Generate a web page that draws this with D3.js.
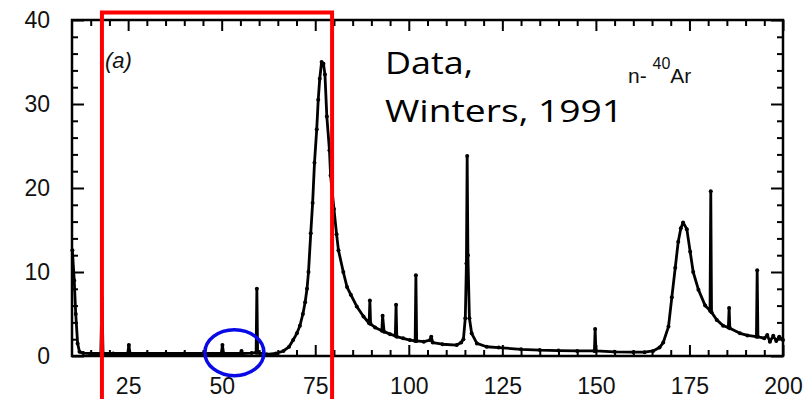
<!DOCTYPE html>
<html>
<head>
<meta charset="utf-8">
<script src="https://cdn.jsdelivr.net/npm/d3@7"></script>
<style>
  body { margin: 0; background: #fff; }
  svg { display: block; }
</style>
</head>
<body>
<svg></svg>
<script>
//Width and height
var svgWidth = 807;
var svgHeight = 399;

// neutron energy (keV) and cross section
var energy = [
  10.1, 10.6, 11.0, 11.5, 12.0, 13, 15, 17.7, 18.0, 18.3,
  21, 24.9, 25.2, 25.5, 30, 35, 40, 45, 49.9, 50.2,
  50.5, 55.1, 55.3, 55.5, 58, 59.2, 59.4, 59.6, 62, 64.5,
  66.5, 68, 69.1, 70.1, 70.9, 71.7, 72.3, 72.8, 73.2, 73.8,
  74.3, 74.8, 75.4, 75.8, 76.2, 76.7, 77.2, 77.6, 78.1, 78.8,
  79.1, 80, 80.7, 81.2, 82.5, 83.5, 84.5, 86.1, 87.9, 89.4,
  89.6, 89.8, 91, 92.8, 93.0, 93.4, 95, 96.4, 96.6, 96.8,
  98.5, 100.3, 101.7, 101.9, 102.1, 104, 105.7, 106.0, 106.4, 109,
  112.8, 114, 114.6, 115.1, 115.4, 115.6, 115.8, 116.2, 116.8, 118.2,
  120.8, 124, 130, 135, 140, 145, 149.6, 149.8, 150.0, 155,
  160, 163, 165.3, 167, 168, 169.4, 170.3, 171.2, 172, 172.7,
  173.3, 174.3, 175.2, 176, 177.4, 179.2, 180.5, 180.7, 180.9, 182.3,
  184, 185.4, 185.6, 185.8, 188.5, 190.5, 192.9, 193.1, 193.3, 195,
  195.8, 196.5, 197.4, 198.2, 199, 200
];
var sigma = [
  12.6, 9, 5, 1.5, 0.5, 0.35, 0.3, 0.3, 6.9, 0.3,
  0.3, 0.3, 1.3, 0.3, 0.3, 0.3, 0.3, 0.3, 0.3, 1.3,
  0.3, 0.3, 0.6, 0.3, 0.35, 0.4, 8.0, 0.4, 0.2, 0.3,
  0.6, 1.1, 1.9, 2.7, 3.6, 5, 6.4, 8, 10, 14.6,
  18.2, 23, 27, 30.5, 33, 35, 34.8, 33.5, 28.5, 24.5,
  21.5, 17.5, 14.5, 12.6, 10, 8.2, 7.3, 5.9, 4.7, 3.9,
  6.6, 3.8, 3.4, 3.0, 4.8, 2.9, 2.6, 2.4, 6.1, 2.3,
  2.1, 1.9, 1.8, 9.6, 1.8, 1.7, 1.9, 2.3, 1.6, 1.4,
  1.3, 1.6, 2.0, 4.5, 11, 23.8, 12, 4.5, 2.7, 1.5,
  1.1, 1.0, 0.8, 0.7, 0.65, 0.6, 0.6, 3.2, 0.6, 0.5,
  0.45, 0.45, 0.6, 1.0, 1.6, 3.5, 7, 10.5, 13.6, 15.2,
  15.9, 15.1, 12.4, 10, 7.9, 6.0, 5.4, 19.6, 5.2, 4.3,
  3.6, 3.4, 5.7, 3.3, 2.7, 2.45, 2.3, 10.2, 2.3, 2.1,
  2.5, 1.7, 2.4, 1.8, 2.3, 1.9
];

// axis ticks
var xTickLabels = [25, 50, 75, 100, 125, 150, 175, 200];
var yTickLabels = [0, 10, 20, 30, 40];

// annotation ranges (in data units)
var boxRange = [18, 79.5];
var circleCenter = [53.4, 0.4];

var margin = { left: 72, right: 24, top: 20, bottom: 43 };

var svg = d3.select("svg")
    .attr("width", svgWidth)
    .attr("height", svgHeight);

var x = d3.scaleLinear()
    .domain([10, 200])
    .range([margin.left, svgWidth - margin.right]);
var y = d3.scaleLinear()
    .domain([0, 40])
    .range([svgHeight - margin.bottom, margin.top]);

var x0 = x.range()[0], x1 = x.range()[1];
var y0 = y.range()[0], y1 = y.range()[1];

var minorX = d3.range(15, 200, 5).filter(function (d) { return d % 25 != 0; });
var minorY = d3.range(2, 40, 2).filter(function (d) { return d % 10 != 0; });

function styleAxis(g) {
    g.select(".domain").remove();
    g.selectAll(".tick line").attr("stroke", "#000").attr("stroke-width", 2);
    g.selectAll("text")
        .attr("fill", "#111")
        .style("font-family", "'Liberation Sans', Arial, sans-serif")
        .style("font-size", "23px");
}

// bottom axis, ticks point inward
svg.append("g")
    .attr("transform", "translate(0," + y0 + ")")
    .call(d3.axisBottom(x).tickValues(xTickLabels).tickSize(-11).tickPadding(22))
    .call(styleAxis);
svg.append("g")
    .attr("transform", "translate(0," + y0 + ")")
    .call(d3.axisBottom(x).tickValues(minorX).tickSize(-6).tickFormat(""))
    .call(styleAxis);
// top axis
svg.append("g")
    .attr("transform", "translate(0," + y1 + ")")
    .call(d3.axisTop(x).tickValues(xTickLabels).tickSize(-11).tickFormat(""))
    .call(styleAxis);
svg.append("g")
    .attr("transform", "translate(0," + y1 + ")")
    .call(d3.axisTop(x).tickValues(minorX).tickSize(-6).tickFormat(""))
    .call(styleAxis);
// left axis
svg.append("g")
    .attr("transform", "translate(" + x0 + ",0)")
    .call(d3.axisLeft(y).tickValues(yTickLabels).tickSize(-12).tickPadding(22))
    .call(styleAxis);
svg.append("g")
    .attr("transform", "translate(" + x0 + ",0)")
    .call(d3.axisLeft(y).tickValues(minorY).tickSize(-6).tickFormat(""))
    .call(styleAxis);
// right axis
svg.append("g")
    .attr("transform", "translate(" + x1 + ",0)")
    .call(d3.axisRight(y).tickValues(yTickLabels).tickSize(-12).tickFormat(""))
    .call(styleAxis);
svg.append("g")
    .attr("transform", "translate(" + x1 + ",0)")
    .call(d3.axisRight(y).tickValues(minorY).tickSize(-6).tickFormat(""))
    .call(styleAxis);

// frame
svg.append("rect")
    .attr("x", x0)
    .attr("y", y1)
    .attr("width", x1 - x0)
    .attr("height", y0 - y1)
    .attr("fill", "none")
    .attr("stroke", "#000")
    .attr("stroke-width", 2.5);

// spectrum
var points = energy.map(function (e, i) { return [e, sigma[i]]; });

var line = d3.line()
    .x(function (d) { return x(d[0]); })
    .y(function (d) { return y(d[1]); });

svg.append("path")
    .datum(points)
    .attr("d", line)
    .attr("fill", "none")
    .attr("stroke", "#000")
    .attr("stroke-width", 2.8)
    .attr("stroke-linejoin", "round");

svg.append("g")
    .selectAll("circle")
    .data(points)
    .enter()
    .append("circle")
    .attr("cx", function (d) { return x(d[0]); })
    .attr("cy", function (d) { return y(d[1]); })
    .attr("r", 2)
    .attr("fill", "#000");

// labels inside the plot
svg.append("text")
    .attr("x", 105)
    .attr("y", 68)
    .style("font-family", "'Liberation Sans', Arial, sans-serif")
    .style("font-style", "italic")
    .style("font-size", "22px")
    .attr("fill", "#111")
    .text("(a)");

var ar = svg.append("text")
    .attr("x", 628)
    .attr("y", 83)
    .style("font-family", "'Liberation Sans', Arial, sans-serif")
    .style("font-size", "21px")
    .attr("fill", "#111");
ar.append("tspan").text("n- ");
ar.append("tspan").attr("dy", -14).style("font-size", "16px").text("40");
ar.append("tspan").attr("dy", 14).text("Ar");

svg.append("text")
    .attr("x", 385)
    .attr("y", 74)
    .attr("textLength", 88)
    .attr("lengthAdjust", "spacingAndGlyphs")
    .style("font-family", "'Open Sans', sans-serif")
    .style("font-size", "31px")
    .attr("fill", "#000")
    .text("Data,");
svg.append("text")
    .attr("x", 385)
    .attr("y", 122)
    .attr("textLength", 238)
    .attr("lengthAdjust", "spacingAndGlyphs")
    .style("font-family", "'Open Sans', sans-serif")
    .style("font-size", "31px")
    .attr("fill", "#000")
    .text("Winters, 1991");

// highlight box and circle
svg.append("rect")
    .attr("x", x(boxRange[0]))
    .attr("y", 12.5)
    .attr("width", x(boxRange[1]) - x(boxRange[0]))
    .attr("height", 420)
    .attr("fill", "none")
    .attr("stroke", "#ff0000")
    .attr("stroke-width", 4);

svg.append("ellipse")
    .attr("cx", x(circleCenter[0]))
    .attr("cy", y(circleCenter[1]))
    .attr("rx", 29.5)
    .attr("ry", 23)
    .attr("fill", "none")
    .attr("stroke", "#0a0ae6")
    .attr("stroke-width", 3.5);
</script>
</body>
</html>
